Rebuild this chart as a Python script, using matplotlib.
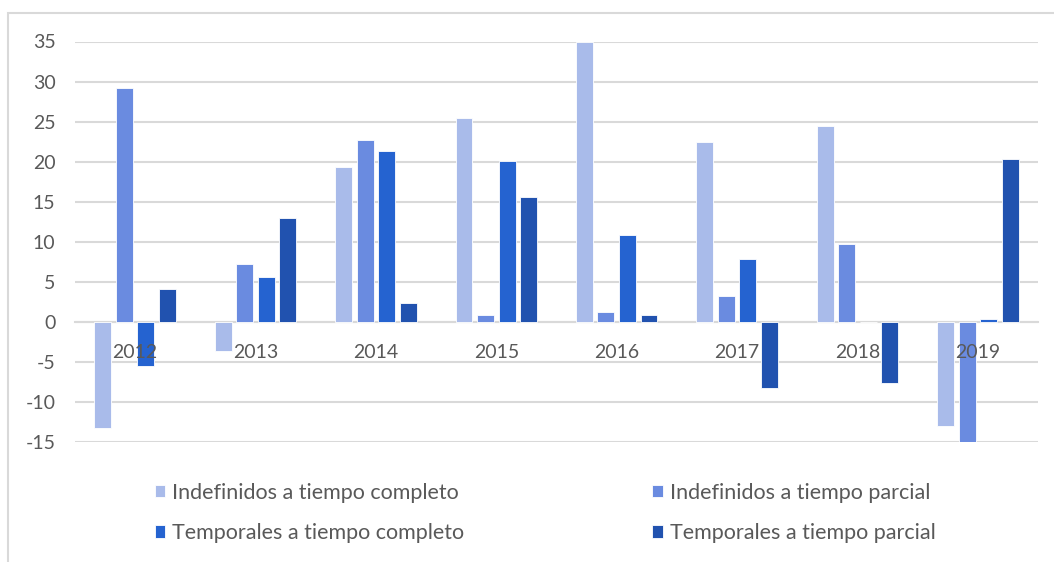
import numpy as np
import matplotlib
matplotlib.use('Agg')
import matplotlib.pyplot as plt
from matplotlib.patches import Rectangle

plt.rcParams['font.family'] = ['Lato', 'DejaVu Sans']
plt.rcParams['axes.unicode_minus'] = False

years = ['2012', '2013', '2014', '2015', '2016', '2017', '2018', '2019']
indef_completo = [-13.2, -3.7, 19.3, 25.5, 35.0, 22.4, 24.4, -13.0]
indef_parcial = [29.2, 7.25, 22.7, 0.9, 1.25, 3.25, 9.75, -15.1]
temp_completo = [-5.5, 5.6, 21.3, 20.1, 10.8, 7.9, 0.0, 0.4]
temp_parcial = [4.1, 13.0, 2.3, 15.6, 0.9, -8.3, -7.6, 20.3]

series = [
    ('Indefinidos a tiempo completo', indef_completo, '#A9BBEA'),
    ('Indefinidos a tiempo parcial', indef_parcial, '#6A8BE0'),
    ('Temporales a tiempo completo', temp_completo, '#2563D0'),
    ('Temporales a tiempo parcial', temp_parcial, '#2152AF'),
]

W, H = 1054, 562
fig = plt.figure(figsize=(W / 100, H / 100), dpi=100)
ax = fig.add_axes([75 / W, 1 - 442 / H, (1038 - 75) / W, (442 - 41.5) / H])

x = np.arange(len(years))
width = 0.141
pitch = 0.179
handles = []
for i, (name, vals, col) in enumerate(series):
    b = ax.bar(x + (i - 1.5) * pitch, vals, width, color=col,
               edgecolor='white', linewidth=0.6, label=name, zorder=3)
    handles.append(b)

grid_col = '#D9D9D9'
text_col = '#595959'
ax.set_ylim(-15, 35)
ax.set_xlim(-0.5, len(years) - 0.5)
ax.set_yticks(range(-15, 36, 5))
ax.yaxis.grid(True, color=grid_col, linewidth=1.5, zorder=0)
for s in ['top', 'right', 'left']:
    ax.spines[s].set_visible(False)
ax.spines['bottom'].set_position(('data', 0))
ax.spines['bottom'].set_color(grid_col)
ax.spines['bottom'].set_linewidth(1.5)
ax.spines['bottom'].set_zorder(2)
ax.set_xticks(x)
ax.set_xticklabels([])
ax.tick_params(axis='x', length=0)
ax.tick_params(axis='y', length=0, pad=14, labelsize=14, labelcolor=text_col)

# category labels drawn on top of the bars, as in the original
for i, yr in enumerate(years):
    ax.annotate(yr, xy=(x[i], 0), xytext=(0, -22), textcoords='offset points',
                ha='center', va='center', fontsize=14, color=text_col, zorder=5)

# outer chart border
fig.patches.append(Rectangle((8 / W, -0.1), 1.2, 1 - 13 / H + 0.1,
                             transform=fig.transFigure, fill=False,
                             edgecolor=grid_col, linewidth=1.5))

order = [0, 2, 1, 3]
leg = fig.legend([handles[i] for i in order], [series[i][0] for i in order],
                 ncol=2, mode='expand', loc='center',
                 bbox_to_anchor=(146 / W, 1 - 513 / H - 0.065, (944 - 146) / W, 0.13),
                 frameon=False, fontsize=15.5, handlelength=0.5, handleheight=0.5,
                 handletextpad=0.3, labelspacing=0.95, borderaxespad=0)
for t in leg.get_texts():
    t.set_color(text_col)

fig.savefig('out.png', dpi=100)
